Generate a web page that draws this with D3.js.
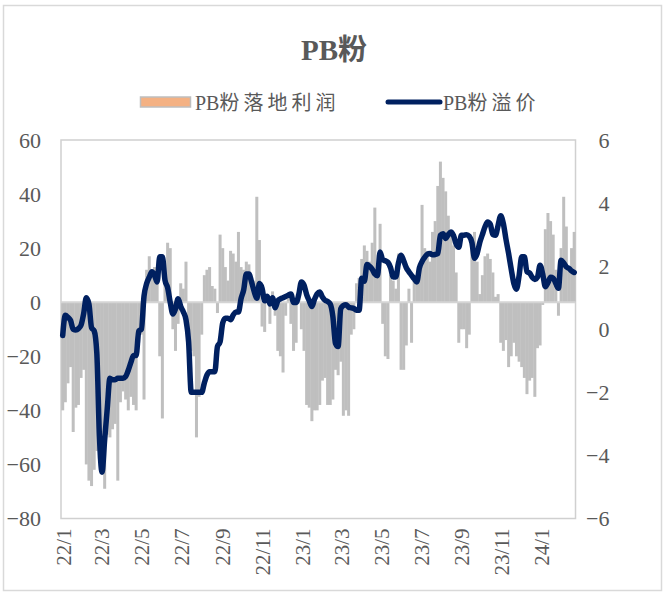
<!DOCTYPE html>
<html>
<head>
<meta charset="utf-8">
<script src="https://cdn.jsdelivr.net/npm/d3@7/dist/d3.min.js"></script>
<style>
  html, body { margin: 0; padding: 0; background: #fff; }
  svg { display: block; }
</style>
</head>
<body>
<svg id="chart" width="664" height="592"></svg>
<script>
// ---------------- DATA ----------------
const title = "PB粉";
const seriesNames = ["PB粉落地利润", "PB粉溢价"];
const firstDate = "2022-01-01";   // first observation
const stepDays = 4;               // spacing between observations (days)
const endDate = "2024-02-22";     // end of the date axis

// PB粉落地利润 (left axis)
const profit = [
  -40,-37,-30,-24,-48,-39,-38,-28,-25,-60,
  -66,-68,-62,-55,-58,-52,-69,-49,-50,-47,
  -45,-66,-37,-33,-36,-40,-35,-38,-40,-15,
  -12,-36,12,17,10,13,8,-20,-43,8,
  22,20,-10,-18,-8,7,5,15,-12,-18,
  -20,-50,-35,-12,10,12,13,6,5,-4,
  25,20,13,8,19,18,15,26,13,12,
  15,14,6,8,39,23,-9,-11,3,-8,
  4,-5,-18,-20,-26,-5,3,-8,-18,-15,
  4,-10,-18,-38,-39,-44,-40,-40,-38,-29,
  -28,-38,-38,-36,-25,-27,-22,-42,-40,-42,
  -12,-10,7,9,16,21,19,15,22,35,
  14,29,-8,-20,-21,10,8,5,18,-25,
  -25,-16,5,-15,8,10,12,36,20,19,
  15,26,30,43,52,46,41,32,26,21,
  11,-15,-10,-10,-17,-12,24,26,15,3,
  10,17,18,16,11,2,3,-15,-18,-14,
  -24,-20,-15,-20,-22,-24,-28,-34,-29,-28,
  -35,-17,-16,-1,27,33,30,25,12,-5,
  20,39,28,12,20,26
];

// PB粉溢价 (right axis)
const premium = [
  -0.2,0.44,0.38,0.28,0.0,-0.02,0.02,0.13,0.5,1.0,
  0.8,0.05,-0.05,-0.75,-3.4,-4.53,-3.5,-2.5,-1.55,-1.6,
  -1.6,-1.55,-1.55,-1.55,-1.5,-1.3,-1.05,-0.83,-0.83,-0.06,
  0.0,1.05,1.45,1.65,1.82,1.72,1.5,2.3,2.3,1.55,
  1.32,0.85,0.48,0.65,0.97,0.72,0.55,0.3,-0.4,-2.0,
  -2.0,-2.0,-2.0,-2.0,-1.7,-1.45,-1.35,-1.35,-1.35,-0.55,
  -0.4,0.2,0.35,0.35,0.3,0.45,0.55,0.55,0.97,1.25,
  1.75,1.75,1.5,1.2,0.98,1.45,1.3,0.9,1.05,0.8,
  1.0,0.68,0.9,0.96,1.0,1.04,1.08,1.12,0.85,0.85,
  1.1,1.5,1.4,1.1,0.9,0.72,0.95,1.12,1.18,1.02,
  0.92,0.88,0.8,0.4,-0.45,-0.55,0.65,0.75,0.78,0.7,
  0.68,0.66,0.6,0.6,1.62,1.52,2.05,2.0,1.9,1.75,
  1.7,2.45,2.2,2.17,2.12,1.95,1.66,1.66,2.1,2.35,
  2.17,1.95,1.82,1.71,1.6,1.5,1.95,2.15,2.28,2.38,
  2.4,2.36,2.37,2.4,2.98,3.03,2.88,3.0,3.08,2.97,
  2.7,2.6,2.98,2.98,3.0,2.95,2.75,2.25,2.4,2.75,
  3.0,3.25,3.4,3.33,3.0,2.98,3.3,3.6,3.35,2.85,
  2.4,1.9,1.45,1.27,1.7,2.3,2.3,1.82,1.78,1.65,
  1.58,1.65,2.03,1.75,1.35,1.48,1.65,1.62,1.45,1.3,
  2.19,2.1,1.98,1.93,1.85,1.8
];

const xTickLabels = ["22/1","22/3","22/5","22/7","22/9","22/11","23/1","23/3","23/5","23/7","23/9","23/11","24/1"];
const leftTicks = [60,40,20,0,-20,-40,-60,-80];
const rightTicks = [6,4,2,0,-2,-4,-6];

// ---------------- CHART ----------------
const svg = d3.select("#chart");
const textColor = "#595959";
const serif = "'Liberation Serif','Times New Roman','Noto Sans CJK SC',serif";

const plot = { left: 61, right: 575.5, top: 140, bottom: 518.5 };

const parse = d3.timeParse("%Y-%m-%d");
const t0 = parse(firstDate);
const dates = profit.map((_, i) => d3.timeDay.offset(t0, i * stepDays));

const x = d3.scaleTime()
  .domain([t0, parse(endDate)])
  .range([62.7, plot.right]);

const yL = d3.scaleLinear().domain([-80, 60]).range([plot.bottom, plot.top]);
const yR = d3.scaleLinear().domain([-6, 6]).range([plot.bottom, plot.top]);

// outer border
svg.append("rect")
  .attr("x", 3.5).attr("y", 5.5).attr("width", 658).attr("height", 585)
  .attr("fill", "none").attr("stroke", "#d9d9d9").attr("stroke-width", 1.5);

// title
svg.append("text")
  .attr("x", 334).attr("y", 60)
  .attr("text-anchor", "middle")
  .attr("font-family", serif).attr("font-weight", "bold")
  .attr("font-size", 29).attr("fill", textColor)
  .text(title);

// legend
function legendText(g, xPos, label) {
  const t = g.append("text").attr("x", xPos).attr("y", 110)
    .attr("font-family", serif).attr("font-size", 20).attr("fill", textColor);
  t.append("tspan").text(label.slice(0, 2));
  t.append("tspan").attr("letter-spacing", 4).text(label.slice(2));
}
const lg = svg.append("g");
lg.append("rect").attr("x", 140.5).attr("y", 97).attr("width", 50).attr("height", 10)
  .attr("fill", "#F4B183").attr("stroke", "#BFBFBF").attr("stroke-width", 1.5);
legendText(lg, 195, seriesNames[0]);
lg.append("line").attr("x1", 388).attr("x2", 440).attr("y1", 102).attr("y2", 102)
  .attr("stroke", "#002060").attr("stroke-width", 5).attr("stroke-linecap", "round");
legendText(lg, 443, seriesNames[1]);

// plot area border
svg.append("rect")
  .attr("x", plot.left).attr("y", plot.top)
  .attr("width", plot.right - plot.left).attr("height", plot.bottom - plot.top)
  .attr("fill", "none").attr("stroke", "#d0d0d0").attr("stroke-width", 1.5);

// bars
const bw = 3.0;
svg.append("g").selectAll("rect").data(profit).join("rect")
  .attr("x", (d, i) => x(dates[i]) - bw / 2)
  .attr("width", bw)
  .attr("y", d => Math.min(yL(d), yL(0)))
  .attr("height", d => Math.abs(yL(d) - yL(0)))
  .attr("fill", "#BFBFBF");

// zero line
svg.append("line")
  .attr("x1", plot.left).attr("x2", plot.right)
  .attr("y1", yL(0)).attr("y2", yL(0))
  .attr("stroke", "#d4d4d4").attr("stroke-width", 2);

// premium line
const line = d3.line()
  .x((d, i) => x(dates[i]))
  .y(d => yR(d))
  .curve(d3.curveMonotoneX);
svg.append("path").datum(premium)
  .attr("d", line)
  .attr("fill", "none").attr("stroke", "#002060")
  .attr("stroke-width", 5.5).attr("stroke-linejoin", "round").attr("stroke-linecap", "round");

// left axis
const axL = svg.append("g").attr("transform", `translate(${plot.left},0)`)
  .call(d3.axisLeft(yL).tickValues(leftTicks).tickSize(0).tickPadding(20));
axL.select(".domain").remove();
axL.selectAll("text").attr("font-family", serif).attr("font-size", 22).attr("fill", textColor);

// right axis
const axR = svg.append("g").attr("transform", `translate(${plot.right},0)`)
  .call(d3.axisRight(yR).tickValues(rightTicks).tickSize(0).tickPadding(34));
axR.select(".domain").remove();
axR.selectAll("text").attr("font-family", serif).attr("font-size", 22).attr("fill", textColor)
  .attr("text-anchor", "end");

// x axis
const tickDates = xTickLabels.map(s => {
  const [yy, mm] = s.split("/").map(Number);
  return new Date(2000 + yy, mm - 1, 1);
});
const axX = svg.append("g").attr("transform", `translate(0,${plot.bottom})`)
  .call(d3.axisBottom(x).tickValues(tickDates).tickSize(0)
    .tickFormat((d, i) => xTickLabels[i]));
axX.select(".domain").remove();
axX.selectAll("text")
  .attr("font-family", serif).attr("font-size", 21).attr("fill", textColor)
  .attr("text-anchor", "end")
  .attr("transform", "rotate(-90)")
  .attr("x", -10).attr("y", 0).attr("dy", "0.35em");
</script>
</body>
</html>
